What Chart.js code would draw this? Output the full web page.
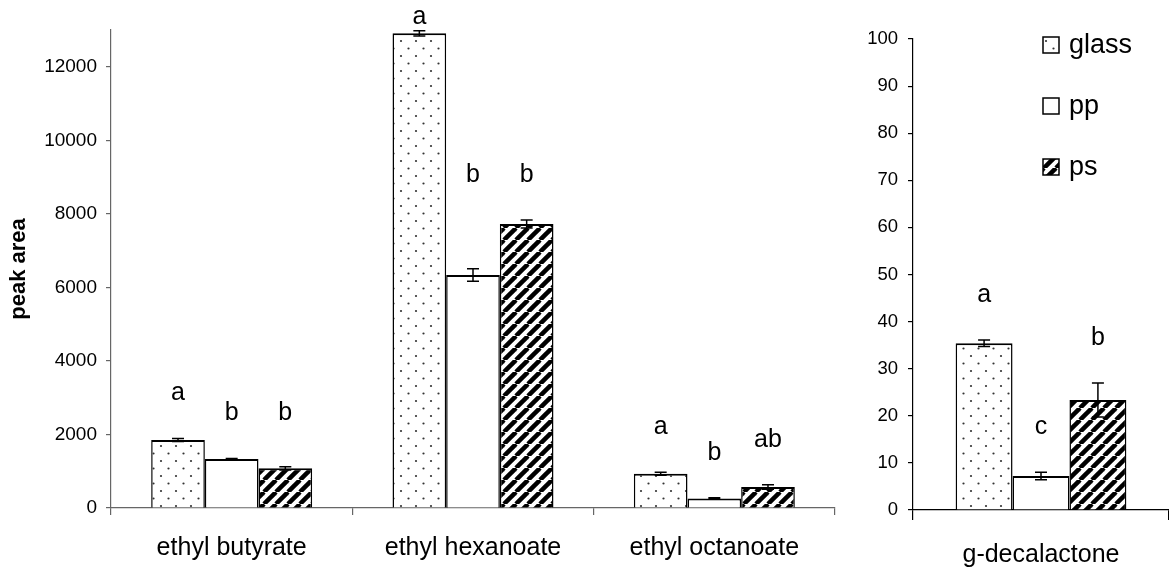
<!DOCTYPE html>
<html lang="en">
<head>
    <meta charset="UTF-8">
    <title>Peak area by packaging</title>
    <script src="https://cdn.jsdelivr.net/npm/chart.js"></script>
    <style>
        body { margin: 0; background: #fff; }
        #wrap { position: relative; width: 1169px; height: 568px; }
        #leftBox { position: absolute; left: 0; top: 0; }
        #rightBox { position: absolute; left: 840px; top: 0; }
    </style>
</head>
<body>
    <div id="wrap">
        <div id="leftBox"><canvas id="esterChart" width="840" height="568"></canvas></div>
        <div id="rightBox"><canvas id="lactoneChart" width="329" height="568"></canvas></div>
    </div>

    <script>
        // esters (left panel)
        const esterNames = ['ethyl butyrate', 'ethyl hexanoate', 'ethyl octanoate'];
        const glassArea = [1850, 12910, 930];
        const ppArea = [1333, 6340, 261];
        const psArea = [1080, 7725, 571];
        const glassErr = [40, 70, 40];
        const ppErr = [15, 170, 15];
        const psErr = [45, 110, 60];
        const glassLetters = ['a', 'a', 'a'];
        const ppLetters = ['b', 'b', 'b'];
        const psLetters = ['b', 'b', 'ab'];
        const esterMax = 13000;
        const esterTicks = [0, 2000, 4000, 6000, 8000, 10000, 12000];

        // lactone (right panel)
        const lactoneNames = ['g-decalactone'];
        const glassLactone = [35.4];
        const ppLactone = [7.2];
        const psLactone = [23.35];
        const glassLactoneErr = [0.7];
        const ppLactoneErr = [0.8];
        const psLactoneErr = [3.6];
        const glassLactoneLetters = ['a'];
        const ppLactoneLetters = ['c'];
        const psLactoneLetters = ['b'];
        const lactoneMax = 100;
        const lactoneTicks = [0, 10, 20, 30, 40, 50, 60, 70, 80, 90, 100];

        const seriesNames = ['glass', 'pp', 'ps'];

        Chart.defaults.font.family = "'Liberation Sans', Arial, sans-serif";
        Chart.defaults.color = '#000';

        // fill patterns
        function dotPattern() {
            const c = document.createElement('canvas');
            c.width = 15; c.height = 15;
            const g = c.getContext('2d');
            g.fillStyle = '#fff';
            g.fillRect(0, 0, 15, 15);
            g.fillStyle = '#333';
            g.beginPath(); g.arc(3.5, 3.5, 1.1, 0, Math.PI * 2); g.fill();
            g.beginPath(); g.arc(11, 11, 1.1, 0, Math.PI * 2); g.fill();
            return g.createPattern(c, 'repeat');
        }

        function stripePattern() {
            const c = document.createElement('canvas');
            c.width = 12; c.height = 12;
            const g = c.getContext('2d');
            g.fillStyle = '#fff';
            g.fillRect(0, 0, 12, 12);
            g.strokeStyle = '#000';
            g.lineWidth = 4.5;
            for (let k = 0; k <= 24; k += 12) {
                g.beginPath();
                g.moveTo(k - 12, 12);
                g.lineTo(k, 0);
                g.stroke();
            }
            return g.createPattern(c, 'repeat');
        }

        const fills = [dotPattern(), '#fff', stripePattern()];

        function makeSets(values, errs, letters) {
            return values.map((v, i) => ({
                label: seriesNames[i],
                data: v,
                errors: errs[i],
                letters: letters[i],
                backgroundColor: fills[i],
                borderColor: '#000',
                borderWidth: { top: 2, left: 1.5, right: 1.5, bottom: 0 },
                borderSkipped: false,
                categoryPercentage: 0.667,
                barPercentage: 1
            }));
        }

        // error bars
        const errorBars = {
            id: 'errorBars',
            afterDatasetsDraw(chart) {
                const ctx = chart.ctx;
                const yScale = chart.scales.y;
                ctx.save();
                ctx.strokeStyle = '#000';
                ctx.lineWidth = 1.5;
                chart.data.datasets.forEach((ds, d) => {
                    chart.getDatasetMeta(d).data.forEach((bar, i) => {
                        const v = ds.data[i], e = ds.errors[i];
                        const yHi = yScale.getPixelForValue(v + e);
                        const yLo = yScale.getPixelForValue(v - e);
                        ctx.beginPath();
                        ctx.moveTo(bar.x, yHi); ctx.lineTo(bar.x, yLo);
                        ctx.moveTo(bar.x - 6, yHi); ctx.lineTo(bar.x + 6, yHi);
                        ctx.moveTo(bar.x - 6, yLo); ctx.lineTo(bar.x + 6, yLo);
                        ctx.stroke();
                    });
                });
                ctx.restore();
            }
        };

        // significance letters above each bar
        const letterMarks = {
            id: 'letterMarks',
            afterDatasetsDraw(chart) {
                const ctx = chart.ctx;
                const yScale = chart.scales.y;
                const top = chart.chartArea.top;
                ctx.save();
                ctx.font = "25px 'Liberation Sans', Arial, sans-serif";
                ctx.fillStyle = '#000';
                ctx.textAlign = 'center';
                ctx.textBaseline = 'middle';
                chart.data.labels.forEach((lab, i) => {
                    const items = chart.data.datasets.map((ds, d) => {
                        const bar = chart.getDatasetMeta(d).data[i];
                        const yTop = yScale.getPixelForValue(ds.data[i] + ds.errors[i]);
                        return { x: bar.x, y: Math.max(yTop - 45, top - 13), text: ds.letters[i] };
                    });
                    // same letter in one group sits at one height
                    items.forEach(a => items.forEach(b => {
                        if (a.text === b.text) a.y = Math.min(a.y, b.y);
                    }));
                    items.forEach(it => ctx.fillText(it.text, it.x, it.y));
                });
                ctx.restore();
            }
        };

        // legend drawn in the right panel
        const boxLegend = {
            id: 'boxLegend',
            afterDraw(chart) {
                const ctx = chart.ctx;
                ctx.save();
                ctx.font = "27px 'Liberation Sans', Arial, sans-serif";
                ctx.textBaseline = 'middle';
                ctx.textAlign = 'left';
                chart.data.datasets.forEach((ds, d) => {
                    const cy = 45 + d * 61;
                    ctx.fillStyle = ds.backgroundColor;
                    ctx.fillRect(203, cy - 8, 16, 16);
                    ctx.strokeStyle = '#000';
                    ctx.lineWidth = 1.5;
                    ctx.strokeRect(203, cy - 8, 16, 16);
                    ctx.fillStyle = '#000';
                    ctx.fillText(ds.label, 229, cy + 1);
                });
                ctx.restore();
            }
        };

        function buildChart(id, labels, sets, max, tickValues, opts) {
            return new Chart(document.getElementById(id), {
                type: 'bar',
                data: { labels: labels, datasets: sets },
                plugins: [errorBars, letterMarks].concat(opts.extra || []),
                options: {
                    responsive: false,
                    animation: false,
                    layout: { padding: { top: opts.top, right: opts.right, left: 0, bottom: 0 } },
                    plugins: { legend: { display: false }, tooltip: { enabled: false } },
                    scales: {
                        x: {
                            grid: { drawOnChartArea: false, drawTicks: true, tickLength: opts.xTick, color: opts.axisColor, lineWidth: 1.2 },
                            border: { display: true, color: opts.axisColor, width: 1.2 },
                            ticks: { font: { size: 25 }, padding: opts.xPad, maxRotation: 0 },
                            afterFit: s => { s.height = opts.xHeight; }
                        },
                        y: {
                            min: 0,
                            max: max,
                            grid: { drawOnChartArea: false, drawTicks: true, tickLength: 5, color: opts.axisColor, lineWidth: 1.2 },
                            border: { display: true, color: opts.axisColor, width: 1.2 },
                            ticks: { font: { size: opts.tickSize }, padding: opts.yPad, autoSkip: false, callback: v => String(v) },
                            title: opts.title ? {
                                display: true, text: opts.title,
                                font: { size: 22, weight: 'bold' }, padding: { top: 6, bottom: 0 }
                            } : { display: false },
                            afterBuildTicks: s => { s.ticks = tickValues.map(v => ({ value: v })); },
                            afterFit: s => { s.width = opts.yWidth; }
                        }
                    }
                }
            });
        }

        buildChart('esterChart', esterNames,
            makeSets([glassArea, ppArea, psArea], [glassErr, ppErr, psErr], [glassLetters, ppLetters, psLetters]),
            esterMax, esterTicks,
            { top: 30, right: 5, xHeight: 60, yWidth: 111, xTick: 7, xPad: 18, yPad: 9, tickSize: 19, axisColor: '#666', title: 'peak area' });

        buildChart('lactoneChart', lactoneNames,
            makeSets([glassLactone, ppLactone, psLactone], [glassLactoneErr, ppLactoneErr, psLactoneErr],
                [glassLactoneLetters, ppLactoneLetters, psLactoneLetters]),
            lactoneMax, lactoneTicks,
            { top: 39, right: 0, xHeight: 58, yWidth: 73, xTick: 10, xPad: 20, yPad: 10, tickSize: 18.5, axisColor: '#000', extra: [boxLegend] });
    </script>
</body>
</html>
